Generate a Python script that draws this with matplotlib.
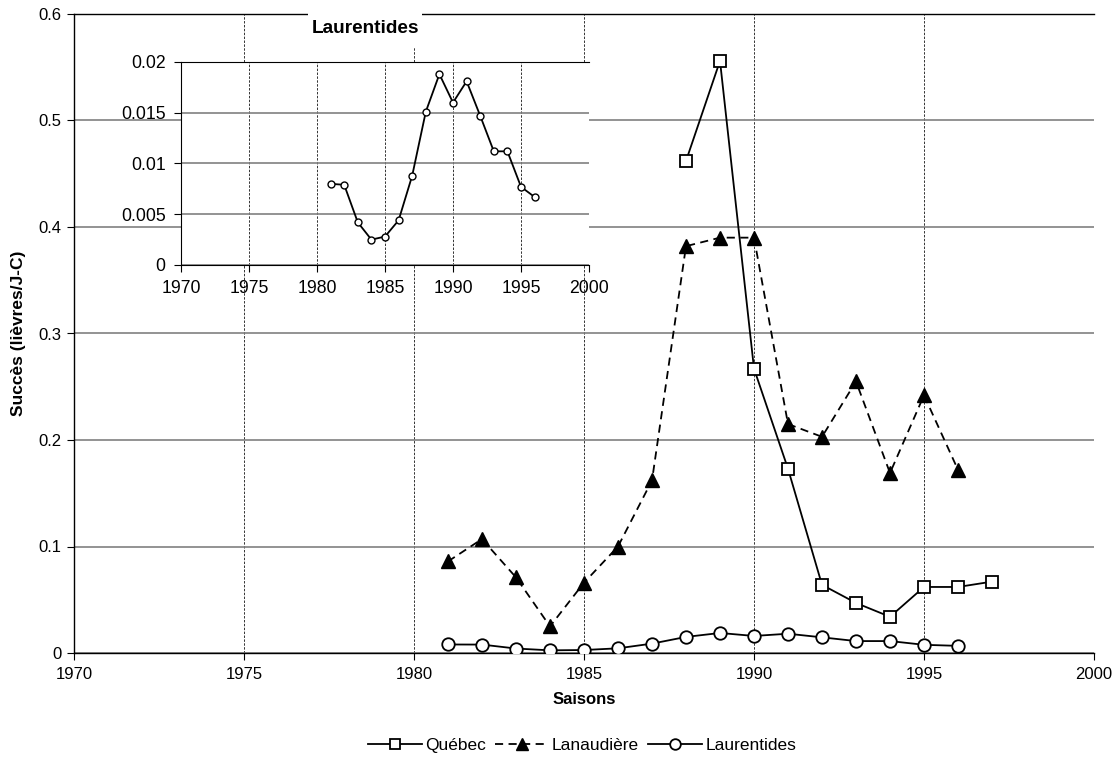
import matplotlib
matplotlib.use("Agg")
import matplotlib.pyplot as plt
from matplotlib.patches import Rectangle
from matplotlib.ticker import FuncFormatter, MultipleLocator

plt.rcParams['font.family'] = ['Liberation Sans', 'DejaVu Sans']

# ---- data ----
years_quebec = [1988, 1989, 1990, 1991, 1992, 1993, 1994, 1995, 1996, 1997]
quebec = [0.462, 0.556, 0.267, 0.173, 0.064, 0.047, 0.034, 0.062, 0.062, 0.067]

years_lanaudiere = list(range(1981, 1997))
lanaudiere = [0.086, 0.107, 0.071, 0.025, 0.066, 0.100, 0.162, 0.382,
              0.390, 0.390, 0.215, 0.203, 0.255, 0.169, 0.242, 0.172]

years_laurentides = list(range(1981, 1997))
laurentides = [0.0080, 0.0079, 0.0042, 0.0025, 0.0028, 0.0044, 0.0088, 0.0151,
               0.0188, 0.0160, 0.0181, 0.0147, 0.0112, 0.0112, 0.0077, 0.0067]

x_ticks = [1970, 1975, 1980, 1985, 1990, 1995, 2000]

W, H = 1117, 761
fig = plt.figure(figsize=(W / 100, H / 100), dpi=100)

def px_axes(l, t, r, b):
    return [l / W, 1 - b / H, (r - l) / W, (b - t) / H]

fmt = FuncFormatter(lambda v, p: f"{v:g}")

# ---- main axes ----
ax = fig.add_axes(px_axes(74, 14, 1094, 653))
ax.set_xlim(1970, 2000)
ax.set_ylim(0, 0.6)
ax.set_xticks(x_ticks)
ax.yaxis.set_major_locator(MultipleLocator(0.1))
ax.yaxis.set_major_formatter(fmt)
ax.xaxis.set_major_formatter(fmt)
ax.tick_params(direction='out', length=5, width=0.8, labelsize=12, pad=4, colors='black')
ax.tick_params(axis='x', pad=5)
ax.yaxis.grid(True, color='#808080', linewidth=1.2, linestyle='-')
ax.xaxis.grid(True, color='#333333', linewidth=0.7, linestyle=(0, (2.5, 1.5)))
ax.set_axisbelow(True)
ax.spines['right'].set_visible(False)
for s in ['left', 'top', 'bottom']:
    ax.spines[s].set_linewidth(1.0)

l1, = ax.plot(years_quebec, quebec, color='black', lw=1.3, marker='s', ms=9,
              mfc='white', mec='black', mew=1.3, label='Québec', zorder=3)
l2, = ax.plot(years_lanaudiere, lanaudiere, color='black', lw=1.3, dashes=(4.5, 3),
              marker='^', ms=10, mfc='black', mec='black', label='Lanaudière', zorder=3)
l3, = ax.plot(years_laurentides, laurentides, color='black', lw=1.3, marker='o', ms=9,
              mfc='white', mec='black', mew=1.3, label='Laurentides', zorder=3)

ax.set_xlabel('Saisons', fontsize=12, fontweight='bold', labelpad=7)
ax.set_ylabel('Succès (lièvres/J-C)', fontsize=12.5, fontweight='bold', labelpad=9)

leg = fig.legend(handles=[l1, l2, l3], loc='center', bbox_to_anchor=(582 / W, 1 - 745 / H),
                 ncol=3, frameon=False, fontsize=12.5, handlelength=3.1, handletextpad=0.2,
                 columnspacing=0.5, markerscale=0.85)

# white box behind inset title
ax.add_patch(Rectangle((308 / W, 1 - 47 / H), 114 / W, 47 / H, transform=fig.transFigure,
                       facecolor='white', edgecolor='none', clip_on=False, zorder=10))

# ---- inset ----
ins = fig.add_axes(px_axes(181, 62, 589, 265), zorder=5)
ins.set_facecolor('white')
ins.set_xlim(1970, 2000)
ins.set_ylim(0, 0.02)
ins.set_xticks(x_ticks)
ins.yaxis.set_major_locator(MultipleLocator(0.005))
ins.yaxis.set_major_formatter(fmt)
ins.xaxis.set_major_formatter(fmt)
ins.tick_params(direction='out', length=5, width=0.8, labelsize=12.7, pad=6, colors='black')
ins.yaxis.grid(True, color='#808080', linewidth=1.2, linestyle='-')
ins.xaxis.grid(True, color='#333333', linewidth=0.7, linestyle=(0, (2.5, 1.5)))
ins.set_axisbelow(True)
ins.spines['right'].set_visible(False)
ins.plot(years_laurentides, laurentides, color='black', lw=1.3, marker='o', ms=5,
         mfc='white', mec='black', mew=1.0, zorder=3)
ins.text(0.451, 1.167, 'Laurentides', transform=ins.transAxes, ha='center', va='center',
         fontsize=13.7, fontweight='bold')

fig.savefig('out.png', dpi=100)
